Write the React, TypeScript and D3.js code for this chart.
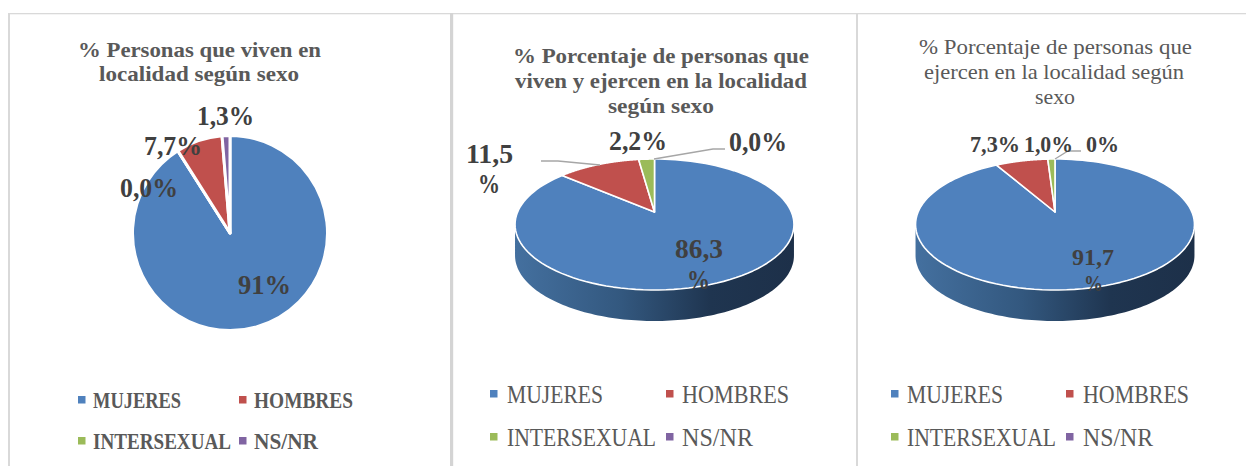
import React from "react";
import * as d3 from "d3";

const WIDTH = 1246;
const HEIGHT = 466;
const FONT = "'Liberation Serif', serif";

const COLORS: Record<string, string> = {
  MUJERES: "#4f81bd",
  HOMBRES: "#c0504d",
  INTERSEXUAL: "#9bbb59",
  "NS/NR": "#8064a2",
};

const flatCats = ["MUJERES", "INTERSEXUAL", "HOMBRES", "NS/NR"];
const flatVals = [91, 0, 7.7, 1.3];
const liveWorkCats = ["MUJERES", "HOMBRES", "INTERSEXUAL", "NS/NR"];
const liveWorkVals = [86.3, 11.5, 2.2, 0];
const workCats = ["MUJERES", "HOMBRES", "INTERSEXUAL", "NS/NR"];
const workVals = [91.7, 7.3, 1.0, 0];

type T = { s: string; x0: number; x1: number; y: number };

const title1: T[] = [
  { s: "% Personas que viven en", x0: 78, x1: 321, y: 57 },
  { s: "localidad según sexo", x0: 99, x1: 299, y: 81 },
];
const title2: T[] = [
  { s: "% Porcentaje de personas que", x0: 513, x1: 809, y: 63 },
  { s: "viven y ejercen en la localidad", x0: 515, x1: 807, y: 88 },
  { s: "según sexo", x0: 608, x1: 714, y: 113 },
];
const title3: T[] = [
  { s: "% Porcentaje de personas que", x0: 919, x1: 1192, y: 54 },
  { s: "ejercen en la localidad según", x0: 924, x1: 1184, y: 79 },
  { s: "sexo", x0: 1035, x1: 1075, y: 104 },
];

const labels1: T[] = [
  { s: "1,3%", x0: 197, x1: 254, y: 125 },
  { s: "7,7%", x0: 144, x1: 202, y: 155 },
  { s: "0,0%", x0: 120, x1: 178, y: 197 },
  { s: "91%", x0: 238, x1: 291, y: 294 },
];
const labels2: T[] = [
  { s: "11,5", x0: 466, x1: 513, y: 163 },
  { s: "%", x0: 478, x1: 500, y: 193 },
  { s: "2,2%", x0: 609, x1: 667, y: 150 },
  { s: "0,0%", x0: 729, x1: 787, y: 151 },
  { s: "86,3", x0: 675, x1: 723, y: 258 },
  { s: "%", x0: 687, x1: 710, y: 289 },
];
const labels3: T[] = [
  { s: "7,3%", x0: 970, x1: 1020, y: 152 },
  { s: "1,0%", x0: 1024, x1: 1073, y: 152 },
  { s: "0%", x0: 1086, x1: 1119, y: 152 },
  { s: "91,7", x0: 1072, x1: 1114, y: 265 },
  { s: "%", x0: 1084, x1: 1103, y: 291 },
];

type L = { cat: string; mx: number; my: number; x0: number; x1: number; y: number };
const legend1: L[] = [
  { cat: "MUJERES", mx: 78, my: 396, x0: 93, x1: 181, y: 408 },
  { cat: "HOMBRES", mx: 239, my: 396, x0: 254, x1: 353, y: 408 },
  { cat: "INTERSEXUAL", mx: 78, my: 437, x0: 93, x1: 231, y: 449 },
  { cat: "NS/NR", mx: 239, my: 437, x0: 254, x1: 318, y: 449 },
];
const legend2: L[] = [
  { cat: "MUJERES", mx: 490, my: 390, x0: 507, x1: 603, y: 403 },
  { cat: "HOMBRES", mx: 666, my: 390, x0: 682, x1: 789, y: 403 },
  { cat: "INTERSEXUAL", mx: 490, my: 433, x0: 507, x1: 656, y: 446 },
  { cat: "NS/NR", mx: 666, my: 433, x0: 682, x1: 753, y: 446 },
];
const legend3: L[] = [
  { cat: "MUJERES", mx: 891, my: 390, x0: 907, x1: 1003, y: 403 },
  { cat: "HOMBRES", mx: 1066, my: 390, x0: 1083, x1: 1189, y: 403 },
  { cat: "INTERSEXUAL", mx: 891, my: 433, x0: 907, x1: 1056, y: 446 },
  { cat: "NS/NR", mx: 1066, my: 433, x0: 1083, x1: 1153, y: 446 },
];

const leaders2 = [
  [[541, 161], [558, 161], [600, 165]],
  [[654, 159], [713, 149], [725, 149]],
];
const leaders3 = [[[1055, 159], [1068, 151], [1081, 151]]];

const pieGen = d3.pie<number>().sort(null).startAngle(0).endAngle(2 * Math.PI);

function Txt({ t, size, bold, fill }: { t: T; size: number; bold?: boolean; fill: string }) {
  return (
    <text
      x={t.x0}
      y={t.y}
      fontFamily={FONT}
      fontSize={size}
      fontWeight={bold ? 700 : 400}
      fill={fill}
      textLength={t.x1 - t.x0}
      lengthAdjust="spacingAndGlyphs"
    >
      {t.s}
    </text>
  );
}

function Legend({ items, bold, size }: { items: L[]; bold: boolean; size: number }) {
  return (
    <g>
      {items.map((l) => (
        <g key={l.cat}>
          <rect x={l.mx} y={l.my} width={7.5} height={7.5} fill={COLORS[l.cat]} />
          <Txt t={{ s: l.cat, x0: l.x0, x1: l.x1, y: l.y }} size={size} bold={bold} fill="#595959" />
        </g>
      ))}
    </g>
  );
}

function FlatPie() {
  const arc = d3.arc<d3.PieArcDatum<number>>().innerRadius(0).outerRadius(97.5);
  const arcs = pieGen(flatVals);
  return (
    <g transform="translate(230,233)">
      {arcs.map((a, i) => (
        <path key={i} d={arc(a) || ""} fill={COLORS[flatCats[i]]} stroke="#fff" strokeWidth={3} strokeLinejoin="round" />
      ))}
    </g>
  );
}

// Tilted pie: a circle seen in perspective, still drawn from the pie angles.
function TiltPie({ cx, vals, cats, id }: { cx: number; vals: number[]; cats: string[]; id: string }) {
  const vy = 212;
  const p = 0.191;
  const A = 63.1;
  const B = 136.9;
  const depth = 31;
  const proj = (a: number): [number, number] => {
    const s = Math.sin(a);
    const c = Math.cos(a);
    const d = 1 + p * c;
    return [cx + (B * s) / d, vy - (A * c) / d];
  };
  const line = d3.line();
  const sample = (a0: number, a1: number) => d3.range(0, 121).map((k) => proj(a0 + ((a1 - a0) * k) / 120));
  const arcs = pieGen(vals);
  // angles of the widest points, where the wall begins and ends
  const side = Math.acos(-p);
  const front = sample(side, 2 * Math.PI - side);
  const wall = [...front, ...front.slice().reverse().map(([x, y]) => [x, y + depth] as [number, number])];
  return (
    <g>
      <defs>
        <linearGradient id={id} x1="0" x2="1" y1="0" y2="0">
          <stop offset="0" stopColor="#44709f" />
          <stop offset="0.38" stopColor="#33587f" />
          <stop offset="0.7" stopColor="#1f3550" />
          <stop offset="1" stopColor="#1d3049" />
        </linearGradient>
      </defs>
      <path d={(line(wall) || "") + "Z"} fill={`url(#${id})`} />
      {arcs.map((a, i) =>
        a.endAngle - a.startAngle > 0 ? (
          <path
            key={i}
            d={(line([[cx, vy], ...sample(a.startAngle, a.endAngle)]) || "") + "Z"}
            fill={COLORS[cats[i]]}
            stroke="#fff"
            strokeWidth={1.6}
            strokeLinejoin="round"
          />
        ) : null,
      )}
    </g>
  );
}

function Leaders({ lines }: { lines: number[][][] }) {
  const line = d3.line();
  return (
    <g>
      {lines.map((l, i) => (
        <path key={i} d={line(l as [number, number][]) || ""} fill="none" stroke="#a6a6a6" strokeWidth={1.3} />
      ))}
    </g>
  );
}

export default function App() {
  return (
    <svg
      width={WIDTH}
      height={HEIGHT}
      viewBox={`0 0 ${WIDTH} ${HEIGHT}`}
      style={{ position: "absolute", left: 0, top: 0, background: "#fff" }}
    >
      <rect x={8} y={13} width={1238} height={1.3} fill="#d9d9d9" />
      <rect x={8} y={13} width={2} height={453} fill="#d9d9d9" />
      <rect x={450} y={13} width={3.2} height={453} fill="#d4d4d4" />
      <rect x={856} y={13} width={2} height={453} fill="#d9d9d9" />

      {title1.map((t) => <Txt key={t.s} t={t} size={21} bold fill="#595959" />)}
      {title2.map((t) => <Txt key={t.s} t={t} size={22} bold fill="#595959" />)}
      {title3.map((t) => <Txt key={t.s} t={t} size={22} fill="#595959" />)}

      <FlatPie />
      <TiltPie cx={654.5} vals={liveWorkVals} cats={liveWorkCats} id="wall2" />
      <TiltPie cx={1055} vals={workVals} cats={workCats} id="wall3" />
      <Leaders lines={leaders2} />
      <Leaders lines={leaders3} />

      {labels1.map((t) => <Txt key={t.s} t={t} size={27} bold fill="#404040" />)}
      {labels2.map((t, i) => <Txt key={i} t={t} size={27} bold fill="#404040" />)}
      {labels3.map((t, i) => <Txt key={i} t={t} size={24} bold fill="#404040" />)}

      <Legend items={legend1} bold size={23} />
      <Legend items={legend2} bold={false} size={26} />
      <Legend items={legend3} bold={false} size={26} />
    </svg>
  );
}
